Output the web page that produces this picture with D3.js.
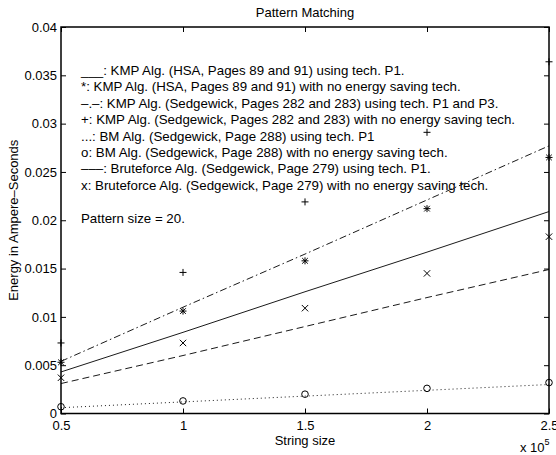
<!DOCTYPE html>
<html>
<head>
<meta charset="utf-8">
<script src="https://cdn.jsdelivr.net/npm/d3@7"></script>
<style>
  html, body { margin: 0; padding: 0; background: #fff; }
  svg text { font-family: "Liberation Sans", Arial, Helvetica, sans-serif; fill: #000; }
</style>
</head>
<body>
<svg id="chart" width="556" height="455"></svg>
<script>
// String sizes (in units of 10^5)
const stringSizes = [0.5, 1, 1.5, 2, 2.5];

// Measured energy (no energy saving technique) – markers
const kmpHsaRaw   = [0.0053, 0.0106, 0.0158, 0.0212, 0.0265];   // *
const kmpSedgRaw  = [0.0073, 0.0146, 0.0219, 0.0291, 0.0364];   // +
const bmRaw       = [0.0007, 0.0013, 0.0020, 0.0026, 0.0032];   // o
const bruteRaw    = [0.0037, 0.0073, 0.0109, 0.0145, 0.0183];   // x

// Energy with saving techniques – lines
const kmpHsaP1    = [0.0043, 0.0084, 0.0126, 0.0167, 0.0209];   // solid
const kmpSedgP13  = [0.0054, 0.0110, 0.0165, 0.0221, 0.0277];   // dash-dot
const bmP1        = [0.0006, 0.0012, 0.0018, 0.0024, 0.0030];   // dotted
const bruteP1     = [0.0031, 0.0060, 0.0090, 0.0120, 0.0149];   // dashed

const xTicks = [0.5, 1, 1.5, 2, 2.5];
const yTicks = [0, 0.005, 0.01, 0.015, 0.02, 0.025, 0.03, 0.035, 0.04];

const legendLines = [
  "___: KMP Alg. (HSA, Pages 89 and 91) using tech. P1.",
  "*: KMP Alg. (HSA, Pages 89 and 91) with no energy saving tech.",
  "\u2013.\u2013: KMP Alg. (Sedgewick, Pages 282 and 283) using tech. P1 and P3.",
  "+: KMP Alg. (Sedgewick, Pages 282 and 283) with no energy saving tech.",
  "...: BM Alg. (Sedgewick, Page 288) using tech. P1",
  "o: BM Alg. (Sedgewick, Page 288) with no energy saving tech.",
  "\u2013\u2013\u2013: Bruteforce Alg. (Sedgewick, Page 279) using tech. P1.",
  "x: Bruteforce Alg. (Sedgewick, Page 279) with no energy saving tech.",
  "",
  "Pattern size = 20."
];

const svg = d3.select("#chart");
const plotLeft = 61, plotRight = 549, plotTop = 27, plotBottom = 413.5;

const x = d3.scaleLinear().domain([0.5, 2.5]).range([plotLeft, plotRight]);
const y = d3.scaleLinear().domain([0, 0.04]).range([plotBottom, plotTop]);

const fs = 13;
const tickLen = 5;

// Axes (ticks inside, box on all four sides)
const gAxes = svg.append("g");
const axB = d3.axisBottom(x).tickValues(xTicks).tickFormat(d3.format("")).tickSizeInner(-tickLen).tickSizeOuter(0).tickPadding(7);
const axT = d3.axisTop(x).tickValues(xTicks).tickFormat("").tickSizeInner(-tickLen).tickSizeOuter(0);
const axL = d3.axisLeft(y).tickValues(yTicks).tickFormat(d => d === 0 ? "0" : String(+d.toFixed(3))).tickSizeInner(-tickLen).tickSizeOuter(0).tickPadding(4);
const axR = d3.axisRight(y).tickValues(yTicks).tickFormat("").tickSizeInner(-tickLen).tickSizeOuter(0);

function style(g) {
  g.select(".domain").remove();
  g.selectAll("line").attr("stroke", "#000").attr("stroke-width", 1);
  g.selectAll("text").attr("font-size", fs).attr("font-family", "Liberation Sans, Arial, sans-serif").attr("fill", "#000");
}
gAxes.append("g").attr("transform", `translate(0,${plotBottom})`).call(axB).call(style);
gAxes.append("g").attr("transform", `translate(0,${plotTop})`).call(axT).call(style);
gAxes.append("g").attr("transform", `translate(${plotLeft},0)`).call(axL).call(style);
gAxes.append("g").attr("transform", `translate(${plotRight},0)`).call(axR).call(style);

gAxes.append("rect")
  .attr("x", plotLeft).attr("y", plotTop)
  .attr("width", plotRight - plotLeft).attr("height", plotBottom - plotTop)
  .attr("fill", "none").attr("stroke", "#000").attr("stroke-width", 1.5);

// Lines
const lineGen = d3.line().x((d, i) => x(stringSizes[i])).y(d => y(d));
const gLines = svg.append("g");
[
  { data: kmpHsaP1, dash: null },
  { data: kmpSedgP13, dash: "7,3,1.5,3" },
  { data: bmP1, dash: "1,3" },
  { data: bruteP1, dash: "7,4" }
].forEach(s => {
  gLines.append("path")
    .attr("d", lineGen(s.data))
    .attr("fill", "none")
    .attr("stroke", "#000")
    .attr("stroke-width", 0.9)
    .attr("stroke-dasharray", s.dash);
});

// Markers
const gMarks = svg.append("g").attr("stroke", "#000").attr("stroke-width", 1).attr("fill", "none");
function plus(g, cx, cy, r) {
  g.append("path").attr("d", `M${cx - r},${cy}H${cx + r}M${cx},${cy - r}V${cy + r}`);
}
function cross(g, cx, cy, r) {
  g.append("path").attr("d", `M${cx - r},${cy - r}L${cx + r},${cy + r}M${cx - r},${cy + r}L${cx + r},${cy - r}`);
}
kmpSedgRaw.forEach((v, i) => plus(gMarks, x(stringSizes[i]), y(v), 3.5));
kmpHsaRaw.forEach((v, i) => {
  plus(gMarks, x(stringSizes[i]), y(v), 3.5);
  cross(gMarks, x(stringSizes[i]), y(v), 2.8);
});
bruteRaw.forEach((v, i) => cross(gMarks, x(stringSizes[i]), y(v), 3.2));
bmRaw.forEach((v, i) => {
  gMarks.append("circle").attr("cx", x(stringSizes[i])).attr("cy", y(v)).attr("r", 3.3);
});

// Title and axis labels
svg.append("text").attr("x", (plotLeft + plotRight) / 2).attr("y", 16.5)
  .attr("text-anchor", "middle").attr("font-size", fs).text("Pattern Matching");
svg.append("text").attr("x", (plotLeft + plotRight) / 2).attr("y", 445)
  .attr("text-anchor", "middle").attr("font-size", fs).text("String size");
svg.append("text")
  .attr("transform", `translate(18,${(plotTop + plotBottom) / 2}) rotate(-90)`)
  .attr("text-anchor", "middle").attr("font-size", fs).text("Energy in Ampere\u2013Seconds");

const mult = svg.append("text").attr("x", 520).attr("y", 452).attr("font-size", fs);
mult.append("tspan").text("x 10");
mult.append("tspan").attr("dy", -7).attr("font-size", 9).text("5");

// Annotation block
const gLeg = svg.append("g");
legendLines.forEach((t, i) => {
  if (!t) return;
  gLeg.append("text").attr("x", 81).attr("y", 75 + i * 16.4)
    .attr("font-size", 13.3).text(t);
});
</script>
</body>
</html>
